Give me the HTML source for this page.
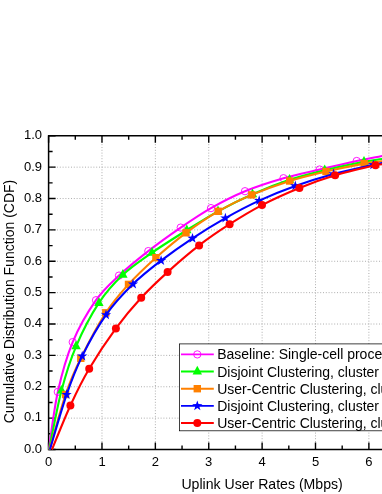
<!DOCTYPE html><html><head><meta charset="utf-8"><style>html,body{margin:0;padding:0;background:#fff}svg{display:block;will-change:transform}text{font-family:"Liberation Sans",sans-serif;fill:#000}</style></head><body>
<svg width="382" height="494" viewBox="0 0 382 494">
<rect width="382" height="494" fill="#fff"/>
<path d="M101.98,135.80V449.50M155.36,135.80V449.50M208.74,135.80V449.50M262.12,135.80V449.50M315.50,135.80V449.50M368.88,135.80V449.50M422.26,135.80V449.50M48.60,418.13H382M48.60,386.76H382M48.60,355.39H382M48.60,324.02H382M48.60,292.65H382M48.60,261.28H382M48.60,229.91H382M48.60,198.54H382M48.60,167.17H382" stroke="#aeaeae" stroke-width="1" stroke-dasharray="1 1.8" fill="none"/>
<path d="M48.60,449.50v-7 M48.60,135.80v7M75.29,449.50v-4 M75.29,135.80v4M101.98,449.50v-7 M101.98,135.80v7M128.67,449.50v-4 M128.67,135.80v4M155.36,449.50v-7 M155.36,135.80v7M182.05,449.50v-4 M182.05,135.80v4M208.74,449.50v-7 M208.74,135.80v7M235.43,449.50v-4 M235.43,135.80v4M262.12,449.50v-7 M262.12,135.80v7M288.81,449.50v-4 M288.81,135.80v4M315.50,449.50v-7 M315.50,135.80v7M342.19,449.50v-4 M342.19,135.80v4M368.88,449.50v-7 M368.88,135.80v7M395.57,449.50v-4 M395.57,135.80v4M422.26,449.50v-7 M422.26,135.80v7M448.95,449.50v-4 M448.95,135.80v4M48.60,449.50h7M48.60,433.81h4M48.60,418.13h7M48.60,402.44h4M48.60,386.76h7M48.60,371.07h4M48.60,355.39h7M48.60,339.71h4M48.60,324.02h7M48.60,308.34h4M48.60,292.65h7M48.60,276.97h4M48.60,261.28h7M48.60,245.59h4M48.60,229.91h7M48.60,214.23h4M48.60,198.54h7M48.60,182.85h4M48.60,167.17h7M48.60,151.49h4M48.60,135.80h7" stroke="#000" stroke-width="1.4" fill="none"/>
<path d="M382,135.80H48.60V449.50H382" stroke="#000" stroke-width="1.5" fill="none" stroke-linejoin="miter"/>
<path d="M48.90,449.50 C50.38,439.90 53.83,409.80 57.80,391.90 C61.77,374.00 66.33,357.38 72.70,342.10 C79.07,326.82 88.28,311.28 96.00,300.20 C103.72,289.12 110.28,283.78 119.00,275.60 C127.72,267.42 138.02,259.10 148.30,251.10 C158.58,243.10 170.25,234.77 180.70,227.60 C191.15,220.43 200.28,214.17 211.00,208.10 C221.72,202.03 232.92,196.18 245.00,191.20 C257.08,186.22 271.07,181.82 283.50,178.20 C295.93,174.58 307.40,172.37 319.60,169.50 C331.80,166.63 346.30,163.25 356.70,161.00 C367.10,158.75 374.78,157.45 382.00,156.00 C389.22,154.55 397.00,152.92 400.00,152.30" stroke="#ff00ff" stroke-width="2.1" fill="none" stroke-linejoin="round"/>
<circle cx="57.8" cy="391.9" r="3.65" fill="none" stroke="#ff00ff" stroke-width="0.9"/>
<circle cx="72.7" cy="342.1" r="3.65" fill="none" stroke="#ff00ff" stroke-width="0.9"/>
<circle cx="96.0" cy="300.2" r="3.65" fill="none" stroke="#ff00ff" stroke-width="0.9"/>
<circle cx="119.0" cy="275.6" r="3.65" fill="none" stroke="#ff00ff" stroke-width="0.9"/>
<circle cx="148.3" cy="251.1" r="3.65" fill="none" stroke="#ff00ff" stroke-width="0.9"/>
<circle cx="180.7" cy="227.6" r="3.65" fill="none" stroke="#ff00ff" stroke-width="0.9"/>
<circle cx="211.0" cy="208.1" r="3.65" fill="none" stroke="#ff00ff" stroke-width="0.9"/>
<circle cx="245.0" cy="191.2" r="3.65" fill="none" stroke="#ff00ff" stroke-width="0.9"/>
<circle cx="283.5" cy="178.2" r="3.65" fill="none" stroke="#ff00ff" stroke-width="0.9"/>
<circle cx="319.6" cy="169.5" r="3.65" fill="none" stroke="#ff00ff" stroke-width="0.9"/>
<circle cx="356.7" cy="161.0" r="3.65" fill="none" stroke="#ff00ff" stroke-width="0.9"/>
<path d="M49.20,449.50 C51.25,439.68 57.02,407.80 61.50,390.60 C65.98,373.40 69.87,360.92 76.10,346.30 C82.33,331.68 91.10,314.82 98.90,302.90 C106.70,290.98 114.05,283.17 122.90,274.80 C131.75,266.43 141.35,260.13 152.00,252.70 C162.65,245.27 175.80,237.10 186.80,230.20 C197.80,223.30 207.05,217.30 218.00,211.30 C228.95,205.30 240.58,199.45 252.50,194.20 C264.42,188.95 277.47,183.80 289.50,179.80 C301.53,175.80 312.28,173.22 324.70,170.20 C337.12,167.18 354.45,163.57 364.00,161.70 C373.55,159.83 376.00,159.90 382.00,159.00 C388.00,158.10 397.00,156.75 400.00,156.30" stroke="#00ff00" stroke-width="2.1" fill="none" stroke-linejoin="round"/>
<path d="M61.5,384.9 L66.2,393.6 L56.8,393.6Z" fill="#00ff00"/>
<path d="M76.1,340.6 L80.8,349.3 L71.4,349.3Z" fill="#00ff00"/>
<path d="M98.9,297.2 L103.6,305.9 L94.2,305.9Z" fill="#00ff00"/>
<path d="M122.9,269.1 L127.6,277.8 L118.2,277.8Z" fill="#00ff00"/>
<path d="M152.0,247.0 L156.7,255.7 L147.3,255.7Z" fill="#00ff00"/>
<path d="M186.8,224.5 L191.5,233.2 L182.1,233.2Z" fill="#00ff00"/>
<path d="M218.0,205.6 L222.7,214.3 L213.3,214.3Z" fill="#00ff00"/>
<path d="M252.5,188.5 L257.2,197.2 L247.8,197.2Z" fill="#00ff00"/>
<path d="M289.5,174.1 L294.2,182.8 L284.8,182.8Z" fill="#00ff00"/>
<path d="M324.7,164.5 L329.4,173.2 L320.0,173.2Z" fill="#00ff00"/>
<path d="M364.0,156.0 L368.7,164.7 L359.3,164.7Z" fill="#00ff00"/>
<path d="M49.60,449.50 C52.27,440.33 60.40,409.70 65.60,394.50 C70.80,379.30 74.10,371.92 80.80,358.30 C87.50,344.68 97.85,325.12 105.80,312.80 C113.75,300.48 120.15,293.58 128.50,284.40 C136.85,275.22 146.32,266.30 155.90,257.70 C165.48,249.10 175.62,240.53 186.00,232.80 C196.38,225.07 207.23,217.62 218.20,211.30 C229.17,204.98 239.88,199.95 251.80,194.90 C263.72,189.85 277.33,184.90 289.70,181.00 C302.07,177.10 313.58,174.40 326.00,171.50 C338.42,168.60 354.87,165.30 364.20,163.60 C373.53,161.90 376.03,162.10 382.00,161.30 C387.97,160.50 397.00,159.22 400.00,158.80" stroke="#ff8000" stroke-width="2.1" fill="none" stroke-linejoin="round"/>
<rect x="61.9" y="390.8" width="7.4" height="7.4" fill="#ff8000"/>
<rect x="77.1" y="354.6" width="7.4" height="7.4" fill="#ff8000"/>
<rect x="102.1" y="309.1" width="7.4" height="7.4" fill="#ff8000"/>
<rect x="124.8" y="280.7" width="7.4" height="7.4" fill="#ff8000"/>
<rect x="152.2" y="254.0" width="7.4" height="7.4" fill="#ff8000"/>
<rect x="182.3" y="229.1" width="7.4" height="7.4" fill="#ff8000"/>
<rect x="214.5" y="207.6" width="7.4" height="7.4" fill="#ff8000"/>
<rect x="248.1" y="191.2" width="7.4" height="7.4" fill="#ff8000"/>
<rect x="286.0" y="177.3" width="7.4" height="7.4" fill="#ff8000"/>
<rect x="322.3" y="167.8" width="7.4" height="7.4" fill="#ff8000"/>
<rect x="360.5" y="159.9" width="7.4" height="7.4" fill="#ff8000"/>
<path d="M49.90,449.50 C52.68,440.35 61.22,410.17 66.60,394.60 C71.98,379.03 75.63,369.38 82.20,356.10 C88.77,342.82 97.53,326.90 106.00,314.90 C114.47,302.90 123.82,293.15 133.00,284.10 C142.18,275.05 151.18,268.23 161.10,260.60 C171.02,252.97 181.78,245.38 192.50,238.30 C203.22,231.22 214.28,224.38 225.40,218.10 C236.52,211.82 247.55,205.95 259.20,200.60 C270.85,195.25 282.90,190.43 295.30,186.00 C307.70,181.57 320.60,177.53 333.60,174.00 C346.60,170.47 365.23,166.63 373.30,164.80 C381.37,162.97 377.55,163.83 382.00,163.00 C386.45,162.17 397.00,160.33 400.00,159.80" stroke="#0000ff" stroke-width="2.1" fill="none" stroke-linejoin="round"/>
<polygon points="66.60,389.20 67.83,392.90 71.74,392.93 68.60,395.25 69.77,398.97 66.60,396.70 63.43,398.97 64.60,395.25 61.46,392.93 65.37,392.90" fill="#0000ff"/>
<polygon points="82.20,350.70 83.43,354.40 87.34,354.43 84.20,356.75 85.37,360.47 82.20,358.20 79.03,360.47 80.20,356.75 77.06,354.43 80.97,354.40" fill="#0000ff"/>
<polygon points="106.00,309.50 107.23,313.20 111.14,313.23 108.00,315.55 109.17,319.27 106.00,317.00 102.83,319.27 104.00,315.55 100.86,313.23 104.77,313.20" fill="#0000ff"/>
<polygon points="133.00,278.70 134.23,282.40 138.14,282.43 135.00,284.75 136.17,288.47 133.00,286.20 129.83,288.47 131.00,284.75 127.86,282.43 131.77,282.40" fill="#0000ff"/>
<polygon points="161.10,255.20 162.33,258.90 166.24,258.93 163.10,261.25 164.27,264.97 161.10,262.70 157.93,264.97 159.10,261.25 155.96,258.93 159.87,258.90" fill="#0000ff"/>
<polygon points="192.50,232.90 193.73,236.60 197.64,236.63 194.50,238.95 195.67,242.67 192.50,240.40 189.33,242.67 190.50,238.95 187.36,236.63 191.27,236.60" fill="#0000ff"/>
<polygon points="225.40,212.70 226.63,216.40 230.54,216.43 227.40,218.75 228.57,222.47 225.40,220.20 222.23,222.47 223.40,218.75 220.26,216.43 224.17,216.40" fill="#0000ff"/>
<polygon points="259.20,195.20 260.43,198.90 264.34,198.93 261.20,201.25 262.37,204.97 259.20,202.70 256.03,204.97 257.20,201.25 254.06,198.93 257.97,198.90" fill="#0000ff"/>
<polygon points="295.30,180.60 296.53,184.30 300.44,184.33 297.30,186.65 298.47,190.37 295.30,188.10 292.13,190.37 293.30,186.65 290.16,184.33 294.07,184.30" fill="#0000ff"/>
<polygon points="333.60,168.60 334.83,172.30 338.74,172.33 335.60,174.65 336.77,178.37 333.60,176.10 330.43,178.37 331.60,174.65 328.46,172.33 332.37,172.30" fill="#0000ff"/>
<polygon points="373.30,159.40 374.53,163.10 378.44,163.13 375.30,165.45 376.47,169.17 373.30,166.90 370.13,169.17 371.30,165.45 368.16,163.13 372.07,163.10" fill="#0000ff"/>
<path d="M52.00,449.50 C55.07,442.17 64.20,418.95 70.40,405.50 C76.60,392.05 81.62,381.65 89.20,368.80 C96.78,355.95 107.23,340.23 115.90,328.40 C124.57,316.57 132.58,307.18 141.20,297.80 C149.82,288.42 157.95,280.83 167.60,272.10 C177.25,263.37 188.77,253.38 199.10,245.40 C209.43,237.42 219.12,230.92 229.60,224.20 C240.08,217.48 250.37,211.13 262.00,205.10 C273.63,199.07 287.22,192.97 299.40,188.00 C311.58,183.03 322.42,179.10 335.10,175.30 C347.78,171.50 367.68,167.05 375.50,165.20 C383.32,163.35 377.92,164.90 382.00,164.20 C386.08,163.50 397.00,161.53 400.00,161.00" stroke="#ff0000" stroke-width="2.1" fill="none" stroke-linejoin="round"/>
<circle cx="70.4" cy="405.5" r="4.0" fill="#ff0000"/>
<circle cx="89.2" cy="368.8" r="4.0" fill="#ff0000"/>
<circle cx="115.9" cy="328.4" r="4.0" fill="#ff0000"/>
<circle cx="141.2" cy="297.8" r="4.0" fill="#ff0000"/>
<circle cx="167.6" cy="272.1" r="4.0" fill="#ff0000"/>
<circle cx="199.1" cy="245.4" r="4.0" fill="#ff0000"/>
<circle cx="229.6" cy="224.2" r="4.0" fill="#ff0000"/>
<circle cx="262.0" cy="205.1" r="4.0" fill="#ff0000"/>
<circle cx="299.4" cy="188.0" r="4.0" fill="#ff0000"/>
<circle cx="335.1" cy="175.3" r="4.0" fill="#ff0000"/>
<circle cx="375.5" cy="165.2" r="4.0" fill="#ff0000"/>
<text x="42" y="452.8" font-size="13" text-anchor="end">0.0</text>
<text x="42" y="421.4" font-size="13" text-anchor="end">0.1</text>
<text x="42" y="390.1" font-size="13" text-anchor="end">0.2</text>
<text x="42" y="358.7" font-size="13" text-anchor="end">0.3</text>
<text x="42" y="327.3" font-size="13" text-anchor="end">0.4</text>
<text x="42" y="295.9" font-size="13" text-anchor="end">0.5</text>
<text x="42" y="264.6" font-size="13" text-anchor="end">0.6</text>
<text x="42" y="233.2" font-size="13" text-anchor="end">0.7</text>
<text x="42" y="201.8" font-size="13" text-anchor="end">0.8</text>
<text x="42" y="170.5" font-size="13" text-anchor="end">0.9</text>
<text x="42" y="139.1" font-size="13" text-anchor="end">1.0</text>
<text x="48.6" y="466.3" font-size="13" text-anchor="middle">0</text>
<text x="102.0" y="466.3" font-size="13" text-anchor="middle">1</text>
<text x="155.4" y="466.3" font-size="13" text-anchor="middle">2</text>
<text x="208.7" y="466.3" font-size="13" text-anchor="middle">3</text>
<text x="262.1" y="466.3" font-size="13" text-anchor="middle">4</text>
<text x="315.5" y="466.3" font-size="13" text-anchor="middle">5</text>
<text x="368.9" y="466.3" font-size="13" text-anchor="middle">6</text>
<text x="181.4" y="489.3" font-size="14.1">Uplink User Rates (Mbps)</text>
<text transform="translate(13.5,301.5) rotate(-90)" font-size="14" text-anchor="middle">Cumulative Distribution Function (CDF)</text>
<rect x="179.5" y="343.9" width="230" height="86.9" fill="#fff" stroke="#000" stroke-width="0.75"/>
<path d="M181,354.4H213.8" stroke="#ff00ff" stroke-width="1.85"/>
<circle cx="197.3" cy="354.4" r="3.65" fill="none" stroke="#ff00ff" stroke-width="0.9"/>
<text x="217.2" y="359.4" font-size="14">Baseline: Single-cell processing</text>
<path d="M181,371.5H213.8" stroke="#00ff00" stroke-width="1.85"/>
<path d="M197.3,365.8 L202.0,374.5 L192.6,374.5Z" fill="#00ff00"/>
<text x="217.2" y="376.5" font-size="14">Disjoint Clustering, cluster size</text>
<path d="M181,388.7H213.8" stroke="#ff8000" stroke-width="1.85"/>
<rect x="193.6" y="385.0" width="7.4" height="7.4" fill="#ff8000"/>
<text x="217.2" y="393.7" font-size="14">User-Centric Clustering, cluster size</text>
<path d="M181,405.8H213.8" stroke="#0000ff" stroke-width="1.85"/>
<polygon points="197.30,400.40 198.53,404.10 202.44,404.13 199.30,406.45 200.47,410.17 197.30,407.90 194.13,410.17 195.30,406.45 192.16,404.13 196.07,404.10" fill="#0000ff"/>
<text x="217.2" y="410.8" font-size="14">Disjoint Clustering, cluster size</text>
<path d="M181,423.0H213.8" stroke="#ff0000" stroke-width="1.85"/>
<circle cx="197.3" cy="423.0" r="4.0" fill="#ff0000"/>
<text x="217.2" y="428.0" font-size="14">User-Centric Clustering, cluster size</text>
</svg></body></html>
